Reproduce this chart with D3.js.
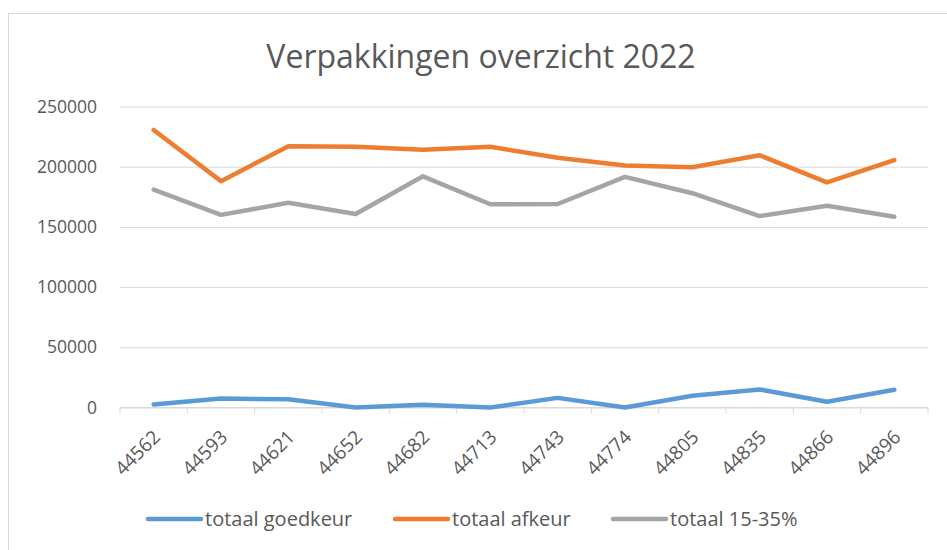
<!DOCTYPE html>
<html>
<head>
    <meta charset="utf-8" />
    <title>Verpakkingen overzicht 2022</title>
    <style>
        html, body {
            margin: 0;
            padding: 0;
            background-color: #fff;
            font-family: 'Open Sans', sans-serif;
        }
        .chart {
            width: 947px;
            height: 550px;
        }
    </style>
</head>
<body>
    <div class="chart"></div>
    <script src="https://d3js.org/d3.v7.min.js"></script>
    <script>
        // data
        var months = ["44562", "44593", "44621", "44652", "44682", "44713",
                      "44743", "44774", "44805", "44835", "44866", "44896"];
        var goedkeur = [2500, 7500, 6800, 0, 2300, 0, 8000, 0, 9800, 15000, 4800, 14800];
        var afkeur = [230500, 188000, 217000, 216500, 214000, 216500,
                      207500, 201000, 199500, 209500, 187000, 205500];
        var totaal1535 = [181000, 160000, 170000, 160700, 192000, 168800,
                          169000, 191500, 178000, 159000, 167500, 158500];
        var yTicks = [0, 50000, 100000, 150000, 200000, 250000];

        var series = [
            {name: "totaal goedkeur", values: goedkeur, color: "#5b9bd5"},
            {name: "totaal afkeur", values: afkeur, color: "#ed7d31"},
            {name: "totaal 15-35%", values: totaal1535, color: "#a5a5a5"}
        ];

        var width = 947, height = 550;
        var plotLeft = 120, plotRight = 928, plotTop = 106.5, plotBottom = 407.5;

        var svg = d3.select(".chart").append("svg")
            .attr("width", width)
            .attr("height", height);

        // outer chart frame
        svg.append("rect")
            .attr("x", 8.5).attr("y", 13.5)
            .attr("width", 960).attr("height", 560)
            .attr("fill", "#fff")
            .attr("stroke", "#d9d9d9")
            .attr("stroke-width", 1);

        svg.append("text")
            .attr("x", 481)
            .attr("y", 68)
            .attr("text-anchor", "middle")
            .attr("fill", "#595959")
            .style("font-size", "32px")
            .text("Verpakkingen overzicht 2022");

        var x = d3.scaleBand().domain(months).range([plotLeft, plotRight]);
        var y = d3.scaleLinear().domain([0, 250000]).range([plotBottom, plotTop]);

        // gridlines + y labels
        var yAxis = svg.append("g")
            .attr("transform", "translate(" + plotLeft + ",0)")
            .call(d3.axisLeft(y).tickValues(yTicks).tickSize(-(plotRight - plotLeft)).tickPadding(23).tickFormat(d3.format("d")));
        yAxis.select(".domain").remove();
        yAxis.selectAll("line").attr("stroke", "#d9d9d9");
        yAxis.selectAll("text")
            .attr("fill", "#595959")
            .style("font-family", "'Open Sans', sans-serif")
            .style("font-size", "17.5px");

        // x axis with ticks between categories
        var xAxis = svg.append("g")
            .attr("transform", "translate(0," + plotBottom + ")");
        xAxis.append("line")
            .attr("x1", plotLeft).attr("x2", plotRight)
            .attr("stroke", "#d9d9d9");
        var bounds = months.map(function(m) { return x(m); }).concat([plotRight]);
        xAxis.selectAll(".tk").data(bounds).enter().append("line")
            .attr("x1", function(d) { return d; })
            .attr("x2", function(d) { return d; })
            .attr("y1", 0).attr("y2", 6)
            .attr("stroke", "#d9d9d9");
        xAxis.selectAll(".lbl").data(months).enter().append("text")
            .attr("transform", function(d) {
                return "translate(" + (x(d) + x.bandwidth() / 2 + 3) + ",26) rotate(-45)";
            })
            .attr("text-anchor", "end")
            .attr("dy", "0.35em")
            .attr("fill", "#595959")
            .style("font-size", "19px")
            .text(function(d) { return d; });

        var line = d3.line()
            .x(function(d, i) { return x(months[i]) + x.bandwidth() / 2; })
            .y(function(d) { return y(d); });

        svg.selectAll(".series").data(series).enter().append("path")
            .attr("d", function(s) { return line(s.values); })
            .attr("fill", "none")
            .attr("stroke", function(s) { return s.color; })
            .attr("stroke-width", 4.5)
            .attr("stroke-linejoin", "round")
            .attr("stroke-linecap", "round");

        // legend
        var legendX = [148, 395, 613];
        var legend = svg.selectAll(".legend").data(series).enter().append("g")
            .attr("transform", function(s, i) { return "translate(" + legendX[i] + ",519)"; });
        legend.append("line")
            .attr("x1", 0).attr("x2", 53)
            .attr("stroke", function(s) { return s.color; })
            .attr("stroke-width", 4.5)
            .attr("stroke-linecap", "round");
        legend.append("text")
            .attr("x", 57)
            .attr("dy", "0.35em")
            .attr("fill", "#595959")
            .style("font-size", "20px")
            .text(function(s) { return s.name; });
    </script>
</body>
</html>
